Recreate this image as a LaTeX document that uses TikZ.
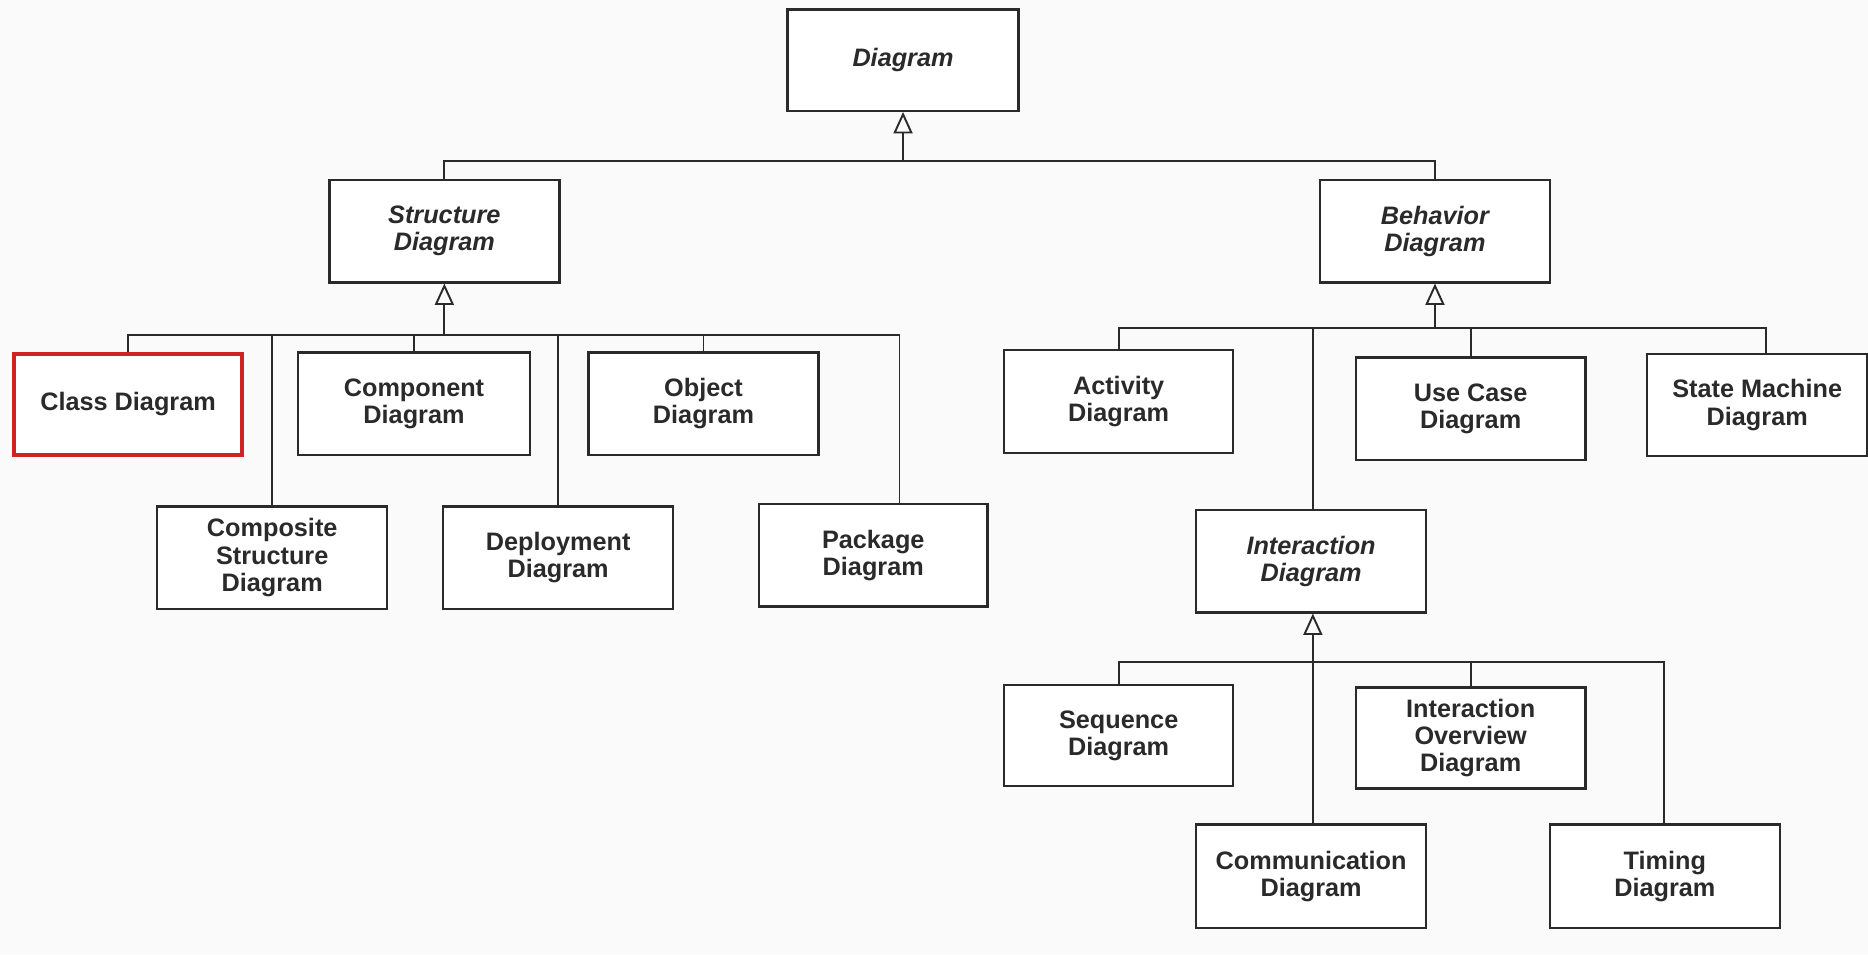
\documentclass[tikz,border=0pt]{standalone}
\usepackage{fontspec}
\setmainfont{Liberation Sans}
\usetikzlibrary{arrows.meta,calc}
\definecolor{bg}{HTML}{FAFAFA}
\definecolor{ink}{HTML}{2A2A2A}
\definecolor{hilite}{HTML}{D02424}
\tikzset{
  umlbox/.style={draw=ink, line width=1pt, fill=white, align=center,
    minimum width=96.5pt, minimum height=43pt, inner sep=0pt,
    font=\fontsize{10.6}{11.4}\selectfont\bfseries, text=ink},
  abstractbox/.style={umlbox, font=\fontsize{10.6}{11.4}\selectfont\bfseries\itshape},
  redbox/.style={umlbox, draw=hilite, line width=1.6pt},
  wire/.style={draw=ink, line width=0.8pt},
  gen/.style={wire, -{Triangle[open, length=9pt, width=8pt, line width=0.8pt]}}
}
\begin{document}
\begin{tikzpicture}[x=0.5pt, y=-0.5pt]
  \fill[bg] (0,0) rectangle (1568,802);
  \useasboundingbox (0,0) rectangle (1568,802);

  % top level
  \node[abstractbox, minimum width=97pt, minimum height=42.5pt] (diagram) at (758,50.5) {Diagram};
  \node[abstractbox] (struct) at (373,194) {Structure\\Diagram};
  \node[abstractbox] (behav) at (1204.5,194) {Behavior\\Diagram};

  % structure diagrams
  \node[redbox, minimum width=95.5pt, minimum height=42.5pt] (class) at (107.5,339.5) {Class Diagram};
  \node[umlbox, minimum width=97.5pt] (component) at (347.5,339) {Component\\Diagram};
  \node[umlbox] (object) at (590.5,339) {Object\\Diagram};
  \node[umlbox] (composite) at (228.5,468) {Composite\\Structure\\Diagram};
  \node[umlbox] (deploy) at (468.5,468) {Deployment\\Diagram};
  \node[umlbox, minimum width=96pt] (package) at (733,466) {Package\\Diagram};

  % behavior diagrams
  \node[umlbox, minimum width=96pt] (activity) at (939,337) {Activity\\Diagram};
  \node[umlbox] (usecase) at (1234.5,343) {Use Case\\Diagram};
  \node[umlbox, minimum width=92.5pt] (statem) at (1475,340) {State Machine\\Diagram};
  \node[abstractbox] (interact) at (1100.5,471) {Interaction\\Diagram};

  % interaction diagrams
  \node[umlbox, minimum width=96pt, minimum height=42.5pt] (sequence) at (939,617.5) {Sequence\\Diagram};
  \node[umlbox, minimum height=42.5pt] (overview) at (1234.5,619.5) {Interaction\\Overview\\Diagram};
  \node[umlbox, minimum height=43.5pt] (comm) at (1100.5,735.5) {Communication\\Diagram};
  \node[umlbox, minimum height=43.5pt] (timing) at (1397.5,735.5) {Timing\\Diagram};

  % junction points of the generalization buses
  \coordinate (dj) at (758,135);
  \coordinate (sj) at (373,281);
  \coordinate (bj) at (1204.5,275);
  \coordinate (ij) at (1102,556);

  % Diagram
  \draw[wire] (struct.north) |- (dj);
  \draw[wire] (behav.north) |- (dj);
  \draw[gen] (dj) -- (diagram.south);

  % Structure Diagram
  \draw[wire] (class.north) |- (sj);
  \draw[wire] (composite.north) |- (sj);
  \draw[wire] (component.north) |- (sj);
  \draw[wire] (deploy.north) |- (sj);
  \draw[wire] (object.north) |- (sj);
  \draw[wire] ($(package.north)+(22,0)$) |- (sj);
  \draw[gen] (sj) -- (struct.south);

  % Behavior Diagram
  \draw[wire] (activity.north) |- (bj);
  \draw[wire] ($(interact.north)+(1.5,0)$) |- (bj);
  \draw[wire] (usecase.north) |- (bj);
  \draw[wire] ($(statem.north)+(7,0)$) |- (bj);
  \draw[gen] (bj) -- (behav.south);

  % Interaction Diagram
  \draw[wire] (sequence.north) |- (ij);
  \draw[wire] (overview.north) |- (ij);
  \draw[wire] ($(timing.north)+(-0.5,0)$) |- (ij);
  \draw[gen] ($(comm.north)+(1.5,0)$) -- ($(interact.south)+(1.5,0)$);
\end{tikzpicture}
\end{document}
